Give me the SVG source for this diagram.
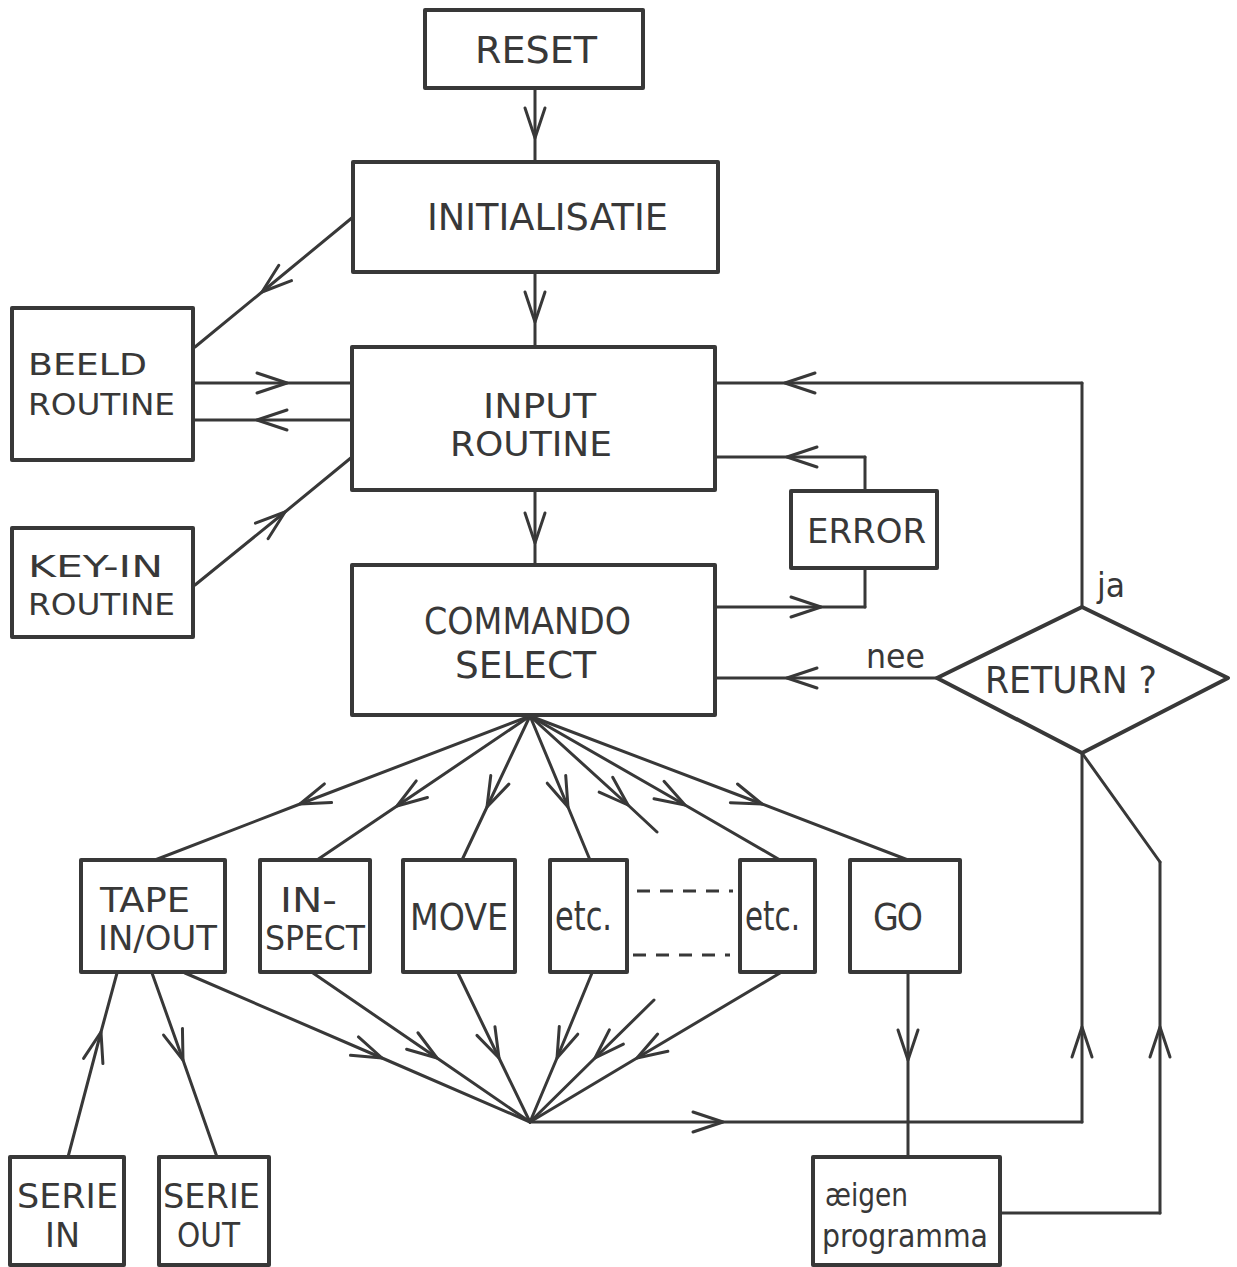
<svg xmlns="http://www.w3.org/2000/svg" width="1237" height="1267" viewBox="0 0 1237 1267">
<defs>
<style>
.box{fill:#fff;stroke:#383838;stroke-width:4;stroke-linejoin:round}
.ln{fill:none;stroke:#383838;stroke-width:3;stroke-linejoin:round;stroke-linecap:round}
.ar{marker-mid:url(#v)}
.dash{fill:none;stroke:#383838;stroke-width:3;stroke-dasharray:13 10}
text{font-family:"DejaVu Sans Condensed","DejaVu Sans",sans-serif;fill:#383838}
.t37{font-size:37px}
.t34{font-size:34px}
.t31{font-size:31px}
.t33{font-size:33px}
.t40{font-size:40px}
.t32{font-size:32px}
</style>
<marker id="v" markerUnits="userSpaceOnUse" markerWidth="40" markerHeight="30" viewBox="-35 -15 40 30" refX="0" refY="0" orient="auto" overflow="visible">
<path d="M-30,-10 L0,0 L-30,10" fill="none" stroke="#383838" stroke-width="3" stroke-linecap="round" stroke-linejoin="round"/>
</marker>
</defs>
<rect width="1237" height="1267" fill="#fff"/>

<g id="connectors">
<path class="ln ar" d="M535,88 L535,138 L535,162"/>
<path class="ln ar" d="M535,272 L535,322 L535,347"/>
<path class="ln ar" d="M535,490 L535,543 L535,565"/>
<path class="ln ar" d="M353,217 L262,292 L195,347"/>
<path class="ln ar" d="M195,383 L287,383 L352,383"/>
<path class="ln ar" d="M352,420 L257,420 L195,420"/>
<path class="ln ar" d="M195,585 L285,512 L352,457"/>
<path class="ln ar" d="M715,607 L821,607 L865,607"/>
<path class="ln" d="M865,607 L865,568"/>
<path class="ln" d="M865,491 L865,457"/>
<path class="ln ar" d="M865,457 L787,457 L715,457"/>
<path class="ln" d="M1082,607 L1082,383"/>
<path class="ln ar" d="M1082,383 L785,383 L715,383"/>
<path class="ln ar" d="M937,678 L787,678 L715,678"/>
<path class="ln ar" d="M530,716 L300,804 L155,860"/>
<path class="ln ar" d="M530,716 L397,806 L317,860"/>
<path class="ln ar" d="M530,716 L487,807 L462,860"/>
<path class="ln ar" d="M530,716 L568,807 L590,860"/>
<path class="ln ar" d="M530,716 L628,805 L657,832"/>
<path class="ln ar" d="M530,716 L685,805 L780,860"/>
<path class="ln ar" d="M530,716 L762,804 L908,860"/>
<path class="dash" d="M637,891 L733,891"/>
<path class="dash" d="M633,955 L730,955"/>
<path class="ln ar" d="M185,973 L382,1058 L530,1122"/>
<path class="ln ar" d="M313,973 L437,1058 L530,1122"/>
<path class="ln ar" d="M458,973 L499,1058 L530,1122"/>
<path class="ln ar" d="M592,973 L557,1058 L530,1122"/>
<path class="ln ar" d="M654,1000 L595,1058 L530,1122"/>
<path class="ln ar" d="M780,973 L637,1058 L530,1122"/>
<path class="ln ar" d="M68,1157 L101,1032 L117,973"/>
<path class="ln ar" d="M152,973 L183,1060 L217,1157"/>
<path class="ln ar" d="M908,972 L908,1060 L908,1157"/>
<path class="ln ar" d="M530,1122 L723,1122 L1082,1122"/>
<path class="ln ar" d="M1082,1122 L1082,1027 L1082,753"/>
<path class="ln" d="M1000,1213 L1160,1213"/>
<path class="ln ar" d="M1160,1213 L1160,1027 L1160,862"/>
<path class="ln" d="M1160,862 L1082,753"/>
</g>

<g id="reset"><rect class="box" x="425" y="10" width="218" height="78"/><text class="t37" x="475" y="63" textLength="122" lengthAdjust="spacingAndGlyphs">RESET</text></g>
<g id="initialisatie"><rect class="box" x="353" y="162" width="365" height="110"/><text class="t37" x="427" y="230" textLength="241" lengthAdjust="spacingAndGlyphs">INITIALISATIE</text></g>
<g id="input-routine"><rect class="box" x="352" y="347" width="363" height="143"/><text class="t34" x="483" y="418" textLength="113" lengthAdjust="spacingAndGlyphs">INPUT</text><text class="t34" x="450" y="456" textLength="162" lengthAdjust="spacingAndGlyphs">ROUTINE</text></g>
<g id="commando-select"><rect class="box" x="352" y="565" width="363" height="150"/><text class="t37" x="424" y="634" textLength="207" lengthAdjust="spacingAndGlyphs">COMMANDO</text><text class="t37" x="455" y="678" textLength="141" lengthAdjust="spacingAndGlyphs">SELECT</text></g>
<g id="beeld-routine"><rect class="box" x="12" y="308" width="181" height="152"/><text class="t31" x="28" y="375" textLength="119" lengthAdjust="spacingAndGlyphs">BEELD</text><text class="t31" x="28" y="415" textLength="147" lengthAdjust="spacingAndGlyphs">ROUTINE</text></g>
<g id="key-in-routine"><rect class="box" x="12" y="528" width="181" height="109"/><text class="t31" x="28" y="577" textLength="135" lengthAdjust="spacingAndGlyphs">KEY-IN</text><text class="t31" x="28" y="615" textLength="147" lengthAdjust="spacingAndGlyphs">ROUTINE</text></g>
<g id="error"><rect class="box" x="791" y="491" width="146" height="77"/><text class="t33" x="807" y="543" textLength="119" lengthAdjust="spacingAndGlyphs">ERROR</text></g>
<g id="return"><path class="box" d="M937,678 L1082,607 L1228,678 L1082,753 Z"/><text class="t37" x="985" y="693" textLength="172" lengthAdjust="spacingAndGlyphs">RETURN ?</text><text class="t33" x="1097" y="597" textLength="28" lengthAdjust="spacingAndGlyphs">ja</text><text class="t33" x="866" y="668" textLength="59" lengthAdjust="spacingAndGlyphs">nee</text></g>
<g id="tape"><rect class="box" x="81" y="860" width="144" height="112"/><text class="t34" x="100" y="912" textLength="90" lengthAdjust="spacingAndGlyphs">TAPE</text><text class="t34" x="98" y="950" textLength="119" lengthAdjust="spacingAndGlyphs">IN/OUT</text></g>
<g id="inspect"><rect class="box" x="260" y="860" width="110" height="112"/><text class="t34" x="280" y="912" textLength="57" lengthAdjust="spacingAndGlyphs">IN-</text><text class="t34" x="265" y="950" textLength="100" lengthAdjust="spacingAndGlyphs">SPECT</text></g>
<g id="move"><rect class="box" x="403" y="860" width="112" height="112"/><text class="t37" x="410" y="930" textLength="98" lengthAdjust="spacingAndGlyphs">MOVE</text></g>
<g id="etc1"><rect class="box" x="550" y="860" width="77" height="112"/><text class="t40" x="555" y="930" textLength="57" lengthAdjust="spacingAndGlyphs">etc.</text></g>
<g id="etc2"><rect class="box" x="740" y="860" width="75" height="112"/><text class="t40" x="745" y="930" textLength="55" lengthAdjust="spacingAndGlyphs">etc.</text></g>
<g id="go"><rect class="box" x="850" y="860" width="110" height="112"/><text class="t37" x="873" y="930" textLength="50" lengthAdjust="spacing">GO</text></g>
<g id="serie-in"><rect class="box" x="10" y="1157" width="114" height="108"/><text class="t34" x="17" y="1208" textLength="101" lengthAdjust="spacingAndGlyphs">SERIE</text><text class="t34" x="45" y="1247" textLength="35" lengthAdjust="spacingAndGlyphs">IN</text></g>
<g id="serie-out"><rect class="box" x="159" y="1157" width="110" height="108"/><text class="t34" x="163" y="1208" textLength="97" lengthAdjust="spacingAndGlyphs">SERIE</text><text class="t34" x="177" y="1247" textLength="63" lengthAdjust="spacingAndGlyphs">OUT</text></g>
<g id="eigen-programma"><rect class="box" x="813" y="1157" width="187" height="108"/><text class="t32" x="825" y="1206" textLength="83" lengthAdjust="spacingAndGlyphs">æigen</text><text class="t32" x="822" y="1247" textLength="166" lengthAdjust="spacingAndGlyphs">programma</text></g>
</svg>
